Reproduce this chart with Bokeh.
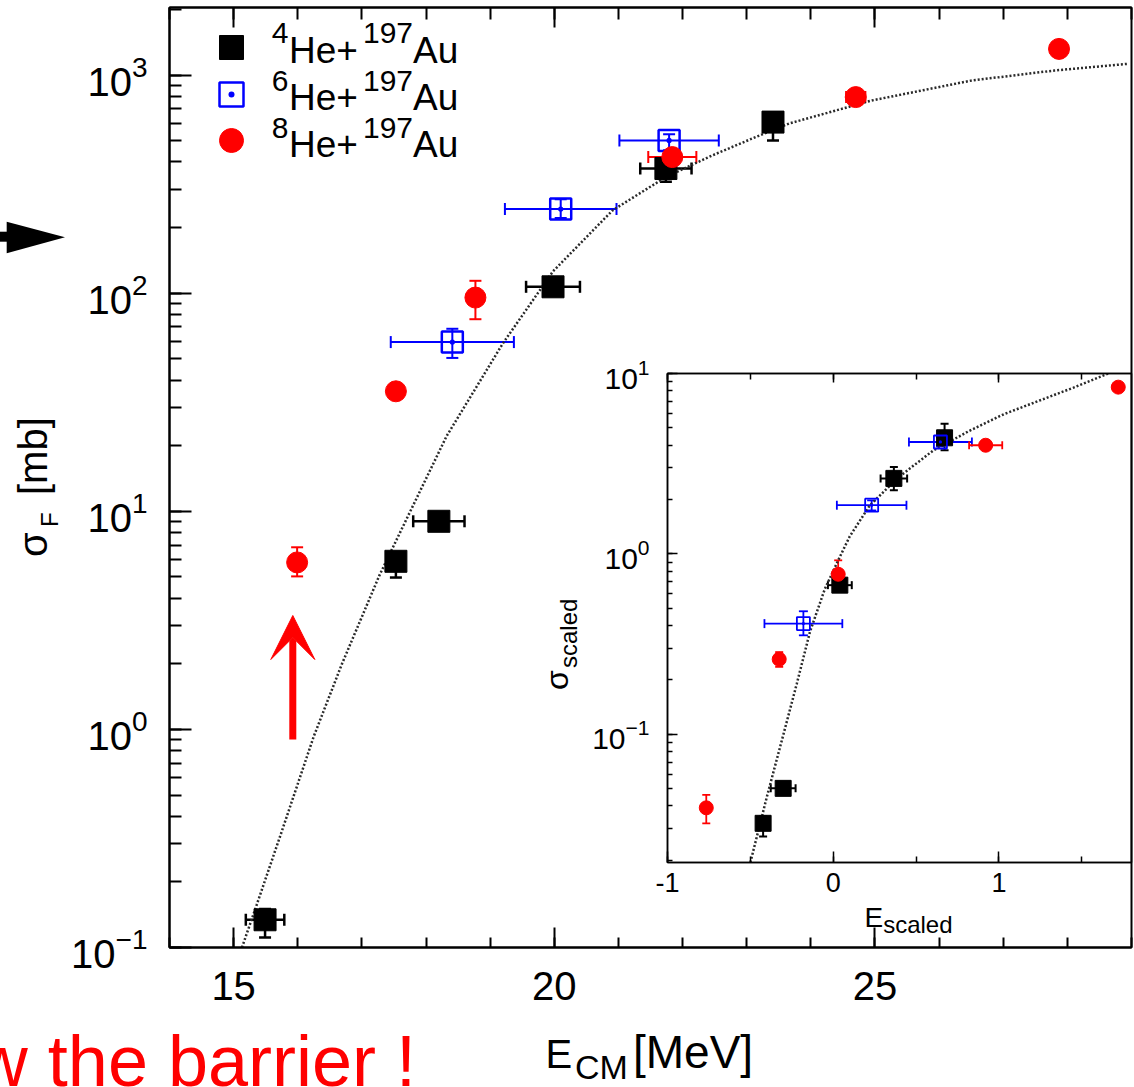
import math
from bokeh.plotting import figure
from bokeh.models import (ColumnDataSource, Whisker, TeeHead, Legend, LegendItem, Div,
                          LinearAxis, SingleIntervalTicker, LogTicker, Arrow, VeeHead,
                          Range1d, CustomJSTickFormatter)
from bokeh.layouts import column
from bokeh.embed import file_html
from bokeh.resources import INLINE
from bokeh.core.properties import value

FONT = "Liberation Sans"

# ---------------- main panel data: E_CM [MeV], sigma_F [mb] ----------------
he4_e = [15.49, 17.53, 18.20, 19.98, 21.74, 23.41]
he4_s = [0.134, 5.9, 9.0, 107.0, 373.0, 609.0]
he4_e_err = [0.30, 0.0, 0.40, 0.42, 0.40, 0.0]
he4_s_lo = [0.111, 4.97, 8.4, 99.0, 324.0, 502.0]
he4_s_hi = [0.150, 6.5, 9.6, 115.0, 410.0, 660.0]

he6_e = [18.41, 20.10, 21.79]
he6_s = [59.7, 243.0, 502.0]
he6_e_err = [0.96, 0.87, 0.775]
he6_s_lo = [50.5, 221.0, 452.0]
he6_s_hi = [68.7, 270.0, 535.0]

he8_e = [15.99, 17.53, 18.77, 21.84, 24.70, 27.87]
he8_s = [5.83, 35.5, 95.5, 421.0, 793.0, 1319.0]
he8_e_err = [0.0, 0.0, 0.0, 0.375, 0.15, 0.0]
he8_s_lo = [5.03, 34.0, 76.0, 400.0, 770.0, 1319.0]
he8_s_hi = [6.84, 37.0, 114.0, 445.0, 815.0, 1319.0]

curve_e = [15.13, 15.36, 15.73, 16.25, 16.69, 17.27, 17.49, 18.32, 19.20, 19.98,
           20.91, 21.74, 22.46, 23.14, 23.66, 24.95, 26.51, 27.80, 28.95]
curve_s = [0.100, 0.157, 0.327, 0.93, 2.0, 5.06, 6.9, 22.1, 59.0, 126.0,
           240.0, 341.0, 428.0, 520.0, 600.0, 765.0, 945.0, 1050.0, 1127.0]

# ---------------- inset data: E_scaled, sigma_scaled ----------------
in4_x = [-0.423, -0.302, 0.04, 0.366, 0.672]
in4_y = [0.032, 0.050, 0.67, 2.62, 4.4]
in4_x_err = [0.0, 0.075, 0.072, 0.08, 0.0]
in4_y_lo = [0.027, 0.046, 0.62, 2.25, 3.75]
in4_y_hi = [0.035, 0.054, 0.72, 3.03, 5.27]

in6_x = [-0.18, 0.232, 0.647]
in6_y = [0.41, 1.86, 4.17]
in6_x_err = [0.235, 0.21, 0.19]
in6_y_lo = [0.353, 1.74, 3.95]
in6_y_hi = [0.48, 1.98, 4.42]

in8_x = [-0.766, -0.326, 0.03, 0.92, 1.72]
in8_y = [0.039, 0.26, 0.77, 4.0, 8.4]
in8_x_err = [0.0, 0.0, 0.0, 0.10, 0.0]
in8_y_lo = [0.032, 0.236, 0.615, 3.9, 8.0]
in8_y_hi = [0.046, 0.285, 0.92, 4.1, 8.85]

inset_curve_x = [-0.50, -0.40, -0.30, -0.22, -0.14, -0.05, 0.03, 0.10, 0.22, 0.39,
                 0.60, 0.82, 1.03, 1.24, 1.45, 1.66]
inset_curve_y = [0.0194, 0.045, 0.100, 0.19, 0.37, 0.64, 0.92, 1.25, 1.85, 2.64,
                 3.72, 4.80, 5.95, 7.05, 8.35, 10.0]

legend_mass = ["4", "6", "8"]
legend_target_mass = "197"
legend_projectile = "He+"
legend_target = "Au"

BLACK, BLUE, RED = "#000000", "#0000ff", "#ff0000"
W, H = 1134, 1087


def style_axis(ax, size, standoff, maj_in, min_in, lw):
    ax.major_tick_in = maj_in
    ax.major_tick_out = 0
    ax.minor_tick_in = min_in
    ax.minor_tick_out = 0
    ax.axis_line_width = lw
    ax.major_tick_line_width = lw
    ax.minor_tick_line_width = lw
    ax.axis_line_color = "black"
    ax.major_tick_line_color = "black"
    ax.minor_tick_line_color = "black"
    ax.major_label_text_font = FONT
    ax.major_label_text_font_size = size
    ax.major_label_text_color = "black"
    ax.major_label_standoff = standoff


def blank_top_axis(fig, ticker, maj_in, min_in, lw):
    ax = LinearAxis(ticker=ticker, formatter=CustomJSTickFormatter(code="return ''"))
    style_axis(ax, "1px", 0, maj_in, min_in, lw)
    fig.add_layout(ax, "above")


def errbars(fig, x, y, xerr, ylo, yhi, color, lw, cap):
    src_v = ColumnDataSource(dict(base=x, lower=ylo, upper=yhi))
    fig.add_layout(Whisker(source=src_v, base="base", lower="lower", upper="upper",
                           dimension="height", line_color=color, line_width=lw,
                           lower_head=TeeHead(size=cap, line_color=color, line_width=lw),
                           upper_head=TeeHead(size=cap, line_color=color, line_width=lw)))
    xs_lo = [a - b for a, b in zip(x, xerr)]
    xs_hi = [a + b for a, b in zip(x, xerr)]
    src_h = ColumnDataSource(dict(base=y, lower=xs_lo, upper=xs_hi))
    fig.add_layout(Whisker(source=src_h, base="base", lower="lower", upper="upper",
                           dimension="width", line_color=color, line_width=lw,
                           lower_head=TeeHead(size=cap, line_color=color, line_width=lw),
                           upper_head=TeeHead(size=cap, line_color=color, line_width=lw)))


# ======================= main figure =======================
p = figure(width=W, height=H, x_range=Range1d(14, 29), y_range=Range1d(0.1, 2042),
           y_axis_type="log", output_backend="svg", toolbar_location=None,
           min_border_left=169, min_border_right=3, min_border_top=7, min_border_bottom=140)
p.xgrid.grid_line_color = None
p.ygrid.grid_line_color = None
p.outline_line_color = "black"
p.outline_line_width = 2
p.background_fill_color = "white"
p.border_fill_color = "white"

p.xaxis[0].ticker = SingleIntervalTicker(interval=5, num_minor_ticks=5)
style_axis(p.xaxis[0], "40px", 24, 20, 10, 2)
p.yaxis[0].ticker = LogTicker(num_minor_ticks=10)
style_axis(p.yaxis[0], "40px", 22, 22, 12, 2)
blank_top_axis(p, SingleIntervalTicker(interval=5, num_minor_ticks=5), 20, 12, 2)

p.line(curve_e, curve_s, line_color="#2a2a2a", line_width=2.5, line_dash="2 2")

errbars(p, he4_e, he4_s, he4_e_err, he4_s_lo, he4_s_hi, BLACK, 2.5, 12)
errbars(p, he6_e, he6_s, he6_e_err, he6_s_lo, he6_s_hi, BLUE, 2, 12)
errbars(p, he8_e, he8_s, he8_e_err, he8_s_lo, he8_s_hi, RED, 2, 12)

r4 = p.scatter(he4_e, he4_s, marker="square", size=22, fill_color=BLACK, line_color=BLACK)
r6 = p.scatter(he6_e, he6_s, marker="square_dot", size=21, fill_color=None,
               line_color=BLUE, line_width=2.5)
r8 = p.scatter(he8_e, he8_s, marker="circle", size=21, fill_color=RED, line_color=RED)

# one legend box per entry (glyph 60x60 -> marker 24 px), frame-relative positions
for r, vy in zip((r4, r6, r8), (870, 823, 777)):
    p.add_layout(Legend(items=[LegendItem(label=value(" "), renderers=[r])],
                        location=(32, vy), orientation="vertical", glyph_width=60,
                        glyph_height=60, label_width=0, label_height=60, label_standoff=0,
                        padding=0, margin=0, border_line_color=None,
                        background_fill_alpha=0, label_text_font_size="1px"))

# red arrow inside the frame (frame-relative screen units)
p.add_layout(Arrow(x_start=123.3, y_start=208, x_end=123.3, y_end=332,
                   start_units="screen", end_units="screen", line_color=RED, line_width=7,
                   end=VeeHead(size=44, fill_color=RED, line_color=RED, line_width=1)))

# ======================= inset figure =======================
# (column layouts align the left borders of plots, so the inset uses the same 169 px border)
q = figure(width=636, height=589, x_range=Range1d(-1, 1.8), y_range=Range1d(0.0194, 10),
           y_axis_type="log", output_backend="svg", toolbar_location=None,
           min_border_left=169, min_border_right=3, min_border_top=20, min_border_bottom=80,
           margin=(-734, 0, 0, 498))
q.xgrid.grid_line_color = None
q.ygrid.grid_line_color = None
q.outline_line_color = "black"
q.outline_line_width = 1.5
q.background_fill_color = None
q.border_fill_color = None

q.xaxis[0].ticker = SingleIntervalTicker(interval=1, num_minor_ticks=2)
q.xaxis[0].formatter = CustomJSTickFormatter(code="return tick.toString()")
style_axis(q.xaxis[0], "27px", 10, 11, 6, 1.5)
q.yaxis[0].ticker = LogTicker(num_minor_ticks=10)
style_axis(q.yaxis[0], "30px", 18, 10, 5, 1.5)
blank_top_axis(q, SingleIntervalTicker(interval=1, num_minor_ticks=2), 9, 6, 1.5)

q.line(inset_curve_x, inset_curve_y, line_color="#2a2a2a", line_width=2.5, line_dash="2 2")

errbars(q, in4_x, in4_y, in4_x_err, in4_y_lo, in4_y_hi, BLACK, 2, 8)
errbars(q, in6_x, in6_y, in6_x_err, in6_y_lo, in6_y_hi, BLUE, 1.8, 9)
errbars(q, in8_x, in8_y, in8_x_err, in8_y_lo, in8_y_hi, RED, 1.8, 8)

q.scatter(in4_x, in4_y, marker="square", size=16, fill_color=BLACK, line_color=BLACK)
q.scatter(in6_x, in6_y, marker="square_dot", size=13, fill_color=None, line_color=BLUE,
          line_width=1.8)
q.scatter(in8_x, in8_y, marker="circle", size=14, fill_color=RED, line_color=RED)

# ======================= text overlay (page pixel positions) =======================
def t(txt, x, y, size, color="black", anchor="start", rot=False):
    tr = f' transform="rotate(-90 {x} {y})"' if rot else ""
    return (f'<text x="{x}" y="{y}" font-family="{FONT}" font-size="{size}" fill="{color}" '
            f'text-anchor="{anchor}"{tr}>{txt}</text>')


parts = []
for i, m in enumerate(legend_mass):
    base = 62.7 + 47.2 * i
    parts.append(t(m, 271.7, base - 19.4, 30))
    parts.append(t(legend_projectile, 289, base, 37))
    parts.append(t(legend_target_mass, 363, base - 19.4, 30))
    parts.append(t(legend_target, 413, base, 37))
# main axis titles
parts.append(t("\u03c3", 47, 557, 40, rot=True))
parts.append(t("F", 58, 527, 24, rot=True))
parts.append(t("[mb]", 47, 495, 40, rot=True))
parts.append(t("E", 545.5, 1068, 40))
parts.append(t("CM", 575, 1079, 34))
parts.append(t("[MeV]", 633, 1068, 46))
# inset axis titles
parts.append(t("E", 864.5, 926.7, 28))
parts.append(t("scaled", 883.2, 933, 24))
parts.append(t("\u03c3", 568, 690, 32, rot=True))
parts.append(t("scaled", 577, 668, 24, rot=True))
# slide annotations (the sentence is cut by the left/bottom edges as on the slide)
parts.append(t("below the barrier !", 416, 1086, 72, color=RED, anchor="end"))
parts.append('<polygon points="0,231.7 8,231.7 8,241.7 0,241.7" fill="black"/>')
parts.append('<polygon points="6.7,221.7 65,237.3 6.7,253.3" fill="black"/>')

svg = (f'<svg xmlns="http://www.w3.org/2000/svg" width="{W}" height="{H}" '
       f'style="display:block">' + "".join(parts) + "</svg>")
overlay = Div(text=svg, width=W, height=H, margin=(-942, 0, 0, 0))

layout = column(p, q, overlay)
with open("out.html", "w", encoding="utf-8") as f:
    f.write(file_html(layout, INLINE))
